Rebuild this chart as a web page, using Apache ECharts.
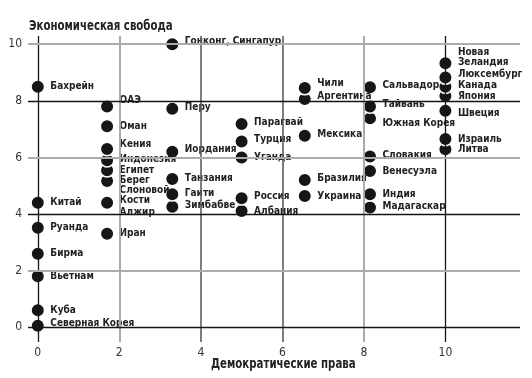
<!DOCTYPE html>
<html>
<head>
<meta charset="utf-8">
<script src="https://cdn.jsdelivr.net/npm/echarts@6/dist/echarts.min.js"></script>
<style>
  html, body { margin: 0; padding: 0; background: #fff; }
  #chart { width: 532px; height: 378px; }
</style>
</head>
<body>
<div id="chart"></div>
<script>
// данные
const countries = [
  "Бахрейн", "Китай", "Руанда", "Бирма", "Вьетнам", "Куба", "Северная Корея",
  "ОАЭ", "Оман", "Кения", "Индонезия", "Египет", "Берег\nСлоновой\nКости", "Алжир", "Иран",
  "Гонконг, Сингапур", "Перу", "Иордания", "Танзания", "Гаити", "Зимбабве",
  "Парагвай", "Турция", "Уганда", "Россия", "Албания",
  "Чили", "Аргентина", "Мексика", "Бразилия", "Украина",
  "Сальвадор", "Тайвань", "Южная Корея", "Словакия", "Венесуэла", "Индия", "Мадагаскар",
  "Новая\nЗеландия", "Люксембург", "Канада", "Япония", "Швеция", "Израиль", "Литва"
];
const democracy = [
  0, 0, 0, 0, 0, 0, 0,
  1.7, 1.7, 1.7, 1.7, 1.7, 1.7, 1.7, 1.7,
  3.3, 3.3, 3.3, 3.3, 3.3, 3.3,
  5, 5, 5, 5, 5,
  6.55, 6.55, 6.55, 6.55, 6.55,
  8.15, 8.15, 8.15, 8.15, 8.15, 8.15, 8.15,
  10, 10, 10, 10, 10, 10, 10
];
const economy = [
  8.5, 4.4, 3.52, 2.6, 1.8, 0.6, 0.05,
  7.8, 7.1, 6.3, 5.9, 5.55, 5.17, 4.4, 3.3,
  10, 7.72, 6.2, 5.24, 4.7, 4.26,
  7.18, 6.56, 6.0, 4.56, 4.11,
  8.45, 8.06, 6.77, 5.2, 4.64,
  8.48, 7.8, 7.38, 6.03, 5.52, 4.7, 4.23,
  9.33, 8.82, 8.5, 8.17, 7.65, 6.65, 6.29
];
const xTicks = [0, 2, 4, 6, 8, 10];
const yTicks = [0, 2, 4, 6, 8, 10];

// сдвиг подписей по вертикали (px), чтобы не налезали
const labelNudge = [
  0, 0, 0, 0, 0, 0, -2,
  -6, 0, -5, -1, 0, 9, 10, 0,
  -3, -1, -2, -1, -1, -1,
  -2, -2, 0, -2, 0,
  -5, -3, -1, -2, 0,
  -2, -2, 5, -1, 0, 0, -1,
  -6, -3, -1, 0, 3, 0, 0
];

const BLACK = { color: "#151515", width: 1.3, type: "solid" };
const GRAY = { color: "#ababab", width: 2, type: "solid" };
const DARK = { color: "#5e5e5e", width: 1.6, type: "solid" };
const xLineStyle = [BLACK, GRAY, DARK, DARK, GRAY, BLACK];
const yLineStyle = [BLACK, GRAY, BLACK, GRAY, BLACK, GRAY];

const font = '"DejaVu Sans Condensed", "Liberation Sans Narrow", sans-serif';
const titleFont = 'bold 14px "DejaVu Sans Condensed", sans-serif';

let points = countries.map(function (name, i) {
  return {
    name: name,
    value: [democracy[i], economy[i]],
    label: { offset: [0, labelNudge[i]] }
  };
});
// нижние точки рисуем раньше, верхние ложатся поверх
points.sort(function (a, b) { return a.value[1] - b.value[1]; });

let gridLines = [];
xTicks.forEach(function (v, i) {
  gridLines.push({ xAxis: v, lineStyle: xLineStyle[i] });
});
yTicks.forEach(function (v, i) {
  gridLines.push({ yAxis: v, lineStyle: yLineStyle[i] });
});

const chart = echarts.init(document.getElementById("chart"));
const option = {
  animation: false,
  grid: { left: 28, right: 12, top: 36, bottom: 36 },
  xAxis: {
    type: "value",
    min: -0.24,
    max: 11.83,
    axisLine: { show: false },
    axisTick: { show: false },
    splitLine: { show: false },
    axisLabel: {
      customValues: xTicks,
      margin: 5,
      fontFamily: font,
      fontSize: 12,
      color: "#333"
    }
  },
  yAxis: {
    type: "value",
    min: -0.52,
    max: 10.29,
    axisLine: { show: false },
    axisTick: { show: false },
    splitLine: { show: false },
    axisLabel: {
      customValues: yTicks,
      margin: 6,
      fontFamily: font,
      fontSize: 12,
      color: "#333"
    }
  },
  graphic: [
    {
      type: "text",
      x: 29,
      y: 19,
      scaleX: 0.81,
      style: { text: "Экономическая свобода", font: titleFont, fill: "#222" }
    },
    {
      type: "text",
      x: 211,
      y: 357,
      scaleX: 0.81,
      style: { text: "Демократические права", font: titleFont, fill: "#222" }
    }
  ],
  series: [
    {
      type: "scatter",
      z: 1,
      silent: true,
      data: [],
      markLine: {
        silent: true,
        symbol: "none",
        animation: false,
        label: { show: false },
        data: gridLines
      }
    },
    {
      type: "scatter",
      z: 3,
      symbol: "circle",
      symbolSize: 13.5,
      itemStyle: { color: "#161616", borderColor: "#fff", borderWidth: 1.5, opacity: 1 },
      label: {
        show: true,
        position: "right",
        distance: 5,
        formatter: "{b}",
        fontFamily: font,
        fontWeight: "bold",
        fontSize: 10,
        lineHeight: 10,
        color: "#222"
      },
      data: points
    }
  ]
};
chart.setOption(option);
</script>
</body>
</html>
